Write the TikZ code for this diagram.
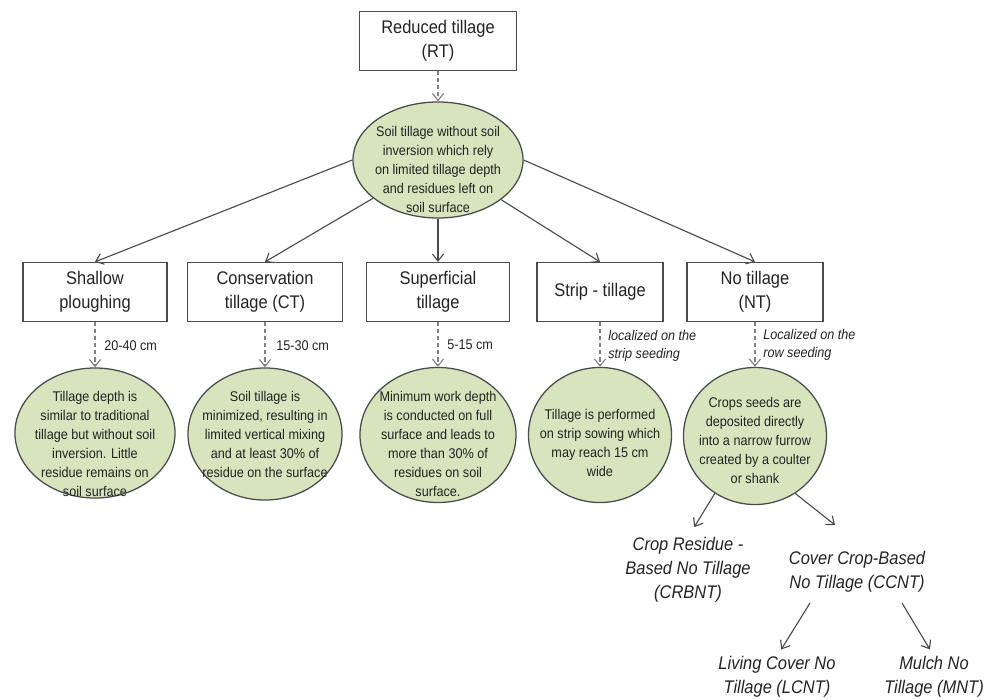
\documentclass[tikz,border=0pt]{standalone}
\usepackage{fontspec}
\setmainfont{Liberation Sans}[FakeStretch=0.9]
\usetikzlibrary{arrows.meta,shapes.geometric}

\definecolor{leaf}{RGB}{215,228,189}
\definecolor{rim}{RGB}{75,75,75}
\definecolor{ink}{RGB}{35,35,35}

\tikzset{
    box/.style={draw=rim, line width=0.9pt, minimum height=1.475cm, inner sep=0pt,
        align=center, text=ink, font=\fontsize{13}{17}\selectfont},
    blob/.style={ellipse, draw=rim, line width=0.9pt, fill=leaf, inner sep=-2cm,
        align=center, text=ink, font=\fontsize{10}{13.5}\selectfont},
    depth/.style={inner sep=0pt, text=ink, font=\fontsize{10}{12}\selectfont},
    note/.style={inner sep=0pt, align=left, text=ink, font=\fontsize{10}{12.8}\selectfont\itshape},
    kind/.style={inner sep=0pt, align=center, text=ink, font=\fontsize{13}{17}\selectfont\itshape},
    link/.style={draw=rim, line width=0.8pt, -{Straight Barb[length=5pt,width=8pt]}},
    dlink/.style={link, draw=gray, densely dashed}
}

\begin{document}
\begin{tikzpicture}[x=0.025cm, y=-0.025cm]
        \useasboundingbox (0,0) rectangle (1005,699);

        % Drawing the root box and its meaning
        \node[box, minimum width=3.925cm] (rt) at (438,41) {Reduced tillage\\(RT)};
        \node[blob, minimum width=4.25cm, minimum height=2.9cm] (rtdesc) at (438,160)
            {\rule{0pt}{21pt}Soil tillage without soil\\inversion which rely\\on limited tillage depth\\and residues left on\\soil surface};

        % Drawing the five kinds of tillage
        \node[box, minimum width=3.6cm] (sp) at (95,292) {Shallow\\ploughing};
        \node[box, minimum width=3.875cm] (ct) at (265,292) {Conservation\\tillage (CT)};
        \node[box, minimum width=3.575cm] (sup) at (438,292) {Superficial\\tillage};
        \node[box, minimum width=3.15cm] (strip) at (600,292) {Strip - tillage};
        \node[box, minimum width=3.4cm] (nt) at (755,292) {No tillage\\(NT)};

        % Marking depths and places
        \node[depth, anchor=west] (spd) at (104,346) {20-40 cm};
        \node[depth, anchor=west] (ctd) at (276,346) {15-30 cm};
        \node[depth, anchor=west] (supd) at (447,345) {5-15 cm};
        \node[note, anchor=west] (stripd) at (608,346) {localized on the\\strip seeding};
        \node[note, anchor=west] (ntd) at (763,345) {Localized on the\\row seeding};

        % Drawing the descriptions
        \node[blob, minimum width=4cm, minimum height=3.25cm] (spdesc) at (95,433)
            {\rule{0pt}{23pt}Tillage depth is\\similar to traditional\\tillage but without soil\\inversion. Little\\residue remains on\\soil surface};
        \node[blob, minimum width=3.85cm, minimum height=3.3cm] (ctdesc) at (265,434)
            {Soil tillage is\\minimized, resulting in\\limited vertical mixing\\and at least 30\% of\\residue on the surface};
        \node[blob, minimum width=3.9cm, minimum height=3.375cm] (supdesc) at (438,435)
            {\rule{0pt}{20pt}Minimum work depth\\is conducted on full\\surface and leads to\\more than 30\% of\\residues on soil\\surface.};
        \node[blob, minimum width=3.575cm, minimum height=3.375cm] (stripdesc) at (600,435)
            {\rule{0pt}{18pt}Tillage is performed\\on strip sowing which\\may reach 15 cm\\wide};
        \node[blob, minimum width=3.575cm, minimum height=3.425cm] (ntdesc) at (755,436)
            {\rule{0pt}{13pt}Crops seeds are\\deposited directly\\into a narrow furrow\\created by a coulter\\or shank};

        % Drawing the kinds of no tillage
        \node[kind] (crbnt) at (688,570) {Crop Residue -\\Based No Tillage\\(CRBNT)};
        \node[kind] (ccnt) at (857,572) {Cover Crop-Based\\No Tillage (CCNT)};
        \node[kind] (lcnt) at (777,677) {Living Cover No\\Tillage (LCNT)};
        \node[kind] (mnt) at (934,677) {Mulch No\\Tillage (MNT)};
        \coordinate (ccnttop) at (835,525);
        \coordinate (ccntl) at (810,603);
        \coordinate (ccntr) at (902,603);

        % Drawing connectors
        \draw[dlink] (rt) -- (rtdesc);
        \draw[link] (rtdesc.west) -- (sp.north);
        \draw[link] (rtdesc) -- (ct.north);
        \draw[link] (rtdesc) -- (sup.north);
        \draw[link] (rtdesc) -- (strip.north);
        \draw[link] (rtdesc.east) -- (nt.north);

        \draw[dlink] (sp) -- (spdesc);
        \draw[dlink] (ct) -- (ctdesc);
        \draw[dlink] (sup) -- (supdesc);
        \draw[dlink] (strip) -- (stripdesc);
        \draw[dlink] (nt) -- (ntdesc);

        \draw[link, shorten >=0.3cm] (ntdesc.235) -- (crbnt.north);
        \draw[link] (ntdesc.305) -- (ccnttop);
        \draw[link, shorten >=0.2cm] (ccntl) -- (lcnt.north);
        \draw[link, shorten >=0.2cm] (ccntr) -- (mnt.north);
\end{tikzpicture}
\end{document}
